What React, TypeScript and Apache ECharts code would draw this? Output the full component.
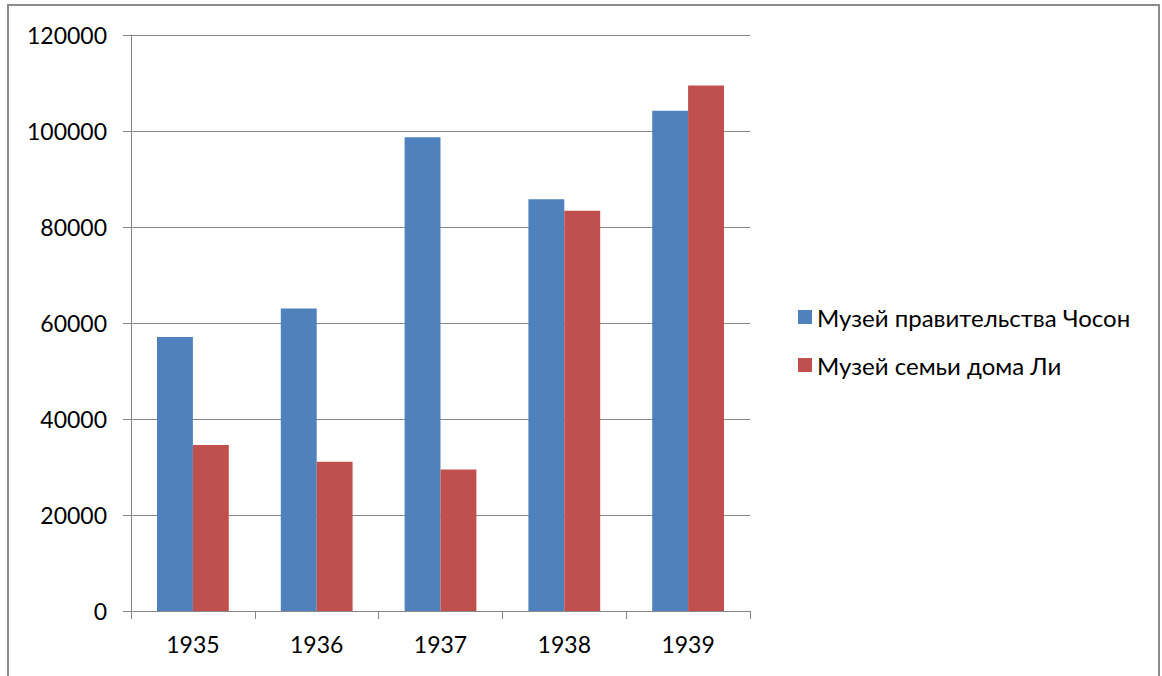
import React, { useEffect, useRef } from "react";
import * as echarts from "echarts";

const categories = ["1935", "1936", "1937", "1938", "1939"];
const seriesNames = ["Музей правительства Чосон", "Музей семьи дома Ли"];
const choson = [57100, 63000, 98700, 85800, 104200];
const leeFamily = [34600, 31100, 29500, 83400, 109500];
const colors = ["#4F81BD", "#C0504D"];

const FONT = "Lato";
const FS = 23;

export default function App() {
  const ref = useRef<HTMLDivElement>(null);
  useEffect(() => {
    if (!ref.current) return;
    const chart = echarts.init(ref.current, undefined, { renderer: "svg" });
    chart.setOption({
      animation: false,
      backgroundColor: "#ffffff",
      textStyle: { fontFamily: FONT },
      graphic: [
        {
          type: "rect",
          shape: { x: 8, y: 5, width: 1151, height: 800 },
          style: { fill: "none", stroke: "#8c8c8c", lineWidth: 2 },
          silent: true,
        },
      ],
      grid: { left: 131, right: 412, top: 35, bottom: 65 },
      legend: {
        orient: "vertical",
        left: 793,
        top: 300,
        itemWidth: 14,
        itemHeight: 14,
        itemGap: 24,
        icon: "rect",
        textStyle: { fontFamily: FONT, fontSize: 24, color: "#000", padding: [0, 0, 0, 0] },
        data: seriesNames,
      },
      xAxis: {
        type: "category",
        data: categories,
        axisLine: { lineStyle: { color: "#868686", width: 1 } },
        axisTick: { show: true, length: 8, lineStyle: { color: "#868686" }, alignWithLabel: false },
        axisLabel: { color: "#000", fontSize: FS, fontFamily: FONT, margin: 21 },
      },
      yAxis: {
        type: "value",
        min: 0,
        max: 120000,
        interval: 20000,
        axisLine: { show: true, lineStyle: { color: "#868686", width: 1 } },
        axisTick: { show: true, length: 8, lineStyle: { color: "#868686" } },
        axisLabel: {
          color: "#000",
          fontSize: FS,
          fontFamily: FONT,
          margin: 24,
          formatter: (v: number) => String(v),
        },
        splitLine: { show: true, lineStyle: { color: "#868686", width: 1 } },
      },
      series: [
        {
          name: seriesNames[0],
          type: "bar",
          data: choson,
          itemStyle: { color: colors[0] },
          barGap: "0%",
          barCategoryGap: "42%",
        },
        {
          name: seriesNames[1],
          type: "bar",
          data: leeFamily,
          itemStyle: { color: colors[1] },
          barGap: "0%",
          barCategoryGap: "42%",
        },
      ],
    });
    return () => chart.dispose();
  }, []);
  return (
    <div
      ref={ref}
      style={{ position: "fixed", left: 0, top: 0, width: 1162, height: 676 }}
    />
  );
}
